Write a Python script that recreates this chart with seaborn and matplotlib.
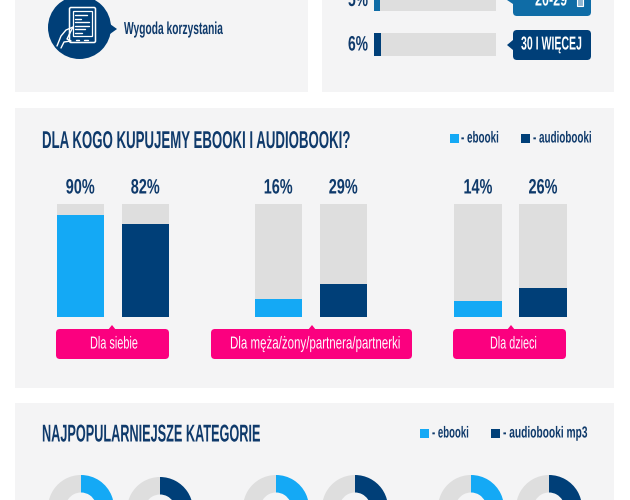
import matplotlib
matplotlib.use('Agg')
import matplotlib.pyplot as plt
from matplotlib.patches import Rectangle, FancyBboxPatch, Polygon, Circle
from matplotlib.patheffects import AbstractPathEffect
from matplotlib.text import Text
from matplotlib.transforms import Affine2D, Bbox
import seaborn as sns

# ── Data ──────────────────────────────────────────────────────────────────
BUYER_GROUPS = ['Dla siebie', 'Dla męża/żony/partnera/partnerki', 'Dla dzieci']
FORMATS = ['ebooki', 'audiobooki']
EBOOK_SHARE = [90, 16, 14]
AUDIO_SHARE = [82, 29, 26]

AGE_LABELS = ['20-29', '30 I WIĘCEJ']
AGE_SHARE = [5, 6]

# only the top of the donuts is in frame, so these are rough
DONUT_SHARE = [38, 31, 36, 30, 36, 33]

TITLE_BUYERS = 'DLA KOGO KUPUJEMY EBOOKI I AUDIOBOOKI?'
TITLE_CATEGORIES = 'NAJPOPULARNIEJSZE KATEGORIE'
REASON = 'Wygoda korzystania'

# ── Style ─────────────────────────────────────────────────────────────────
sns.set_theme(style='white')
plt.rcParams['font.family'] = ['Liberation Sans', 'DejaVu Sans']

PANEL = '#f4f4f5'
TRACK = '#dedede'
LIGHT = '#14a9f5'
NAVY = '#003f78'
MID = '#0f6ca6'
INK = '#0f3a6b'
PINK = '#fb007f'
W, H = 630, 500

fig = plt.figure(figsize=(6.3, 5), dpi=100, facecolor='white')
bg = fig.add_axes([0, 0, 1, 1])
bg.set_xlim(0, W)
bg.set_ylim(H, 0)
bg.axis('off')
renderer = fig.canvas.get_renderer()


# no condensed face is installed, so squeeze the glyphs horizontally at draw time
class Squeeze(AbstractPathEffect):
    def __init__(self, sx):
        super().__init__()
        self.sx = sx

    def draw_path(self, renderer, gc, tpath, affine, rgbFace=None):
        renderer.draw_path(gc, tpath, Affine2D().scale(self.sx, 1) + affine, rgbFace)


class NarrowText(Text):
    sx = 1.0

    def get_window_extent(self, renderer=None, dpi=None):
        bb = super().get_window_extent(renderer, dpi)
        return Bbox.from_bounds(bb.x0, bb.y0, bb.width * self.sx, bb.height)


def label(x0, x1, y, s, size, color=INK, bold=False):
    t = NarrowText(x0, y, s, fontsize=size, color=color, va='center', ha='left',
                   fontweight='bold' if bold else 'normal')
    bg.add_artist(t)
    t.sx = (x1 - x0) / Text.get_window_extent(t, renderer).width
    t.set_path_effects([Squeeze(t.sx)])
    return t


def px_axes(x0, y0, x1, y1):
    ax = fig.add_axes([x0 / W, 1 - y1 / H, (x1 - x0) / W, (y1 - y0) / H])
    ax.patch.set_alpha(0)
    return ax


def callout(x0, y0, x1, y1, color, tail):
    bg.add_patch(FancyBboxPatch((x0 + 4, y0 + 4), x1 - x0 - 8, y1 - y0 - 8,
                                boxstyle='round,pad=4,rounding_size=4',
                                fc=color, ec='none'))
    bg.add_patch(Polygon(tail, fc=color, ec='none'))


def legend_row(items, y):
    for sq_x, color, x0, x1, text in items:
        bg.add_patch(Rectangle((sq_x, y - 4.5), 9, 9, fc=color, ec='none'))
        label(x0, x1, y, text, 11.5, bold=True)


# panels
for x, y, w, h in [(15, -5, 293, 97), (322, -5, 292, 97),
                   (15, 108, 599, 280), (15, 403, 599, 102)]:
    bg.add_patch(Rectangle((x, y), w, h, fc=PANEL, ec='none'))

# ── Top left: reason with tablet icon ─────────────────────────────────────
bg.add_patch(Circle((79.5, 27.5), 31.5, fc=NAVY, ec='none'))
bg.add_patch(Polygon([(110, 24), (117, 29), (110, 34)], fc=NAVY, ec='none'))
bg.add_patch(FancyBboxPatch((70, 8), 25, 34, boxstyle='round,pad=0.5,rounding_size=1.5',
                            fc='none', ec='white', lw=1.1))
bg.add_patch(Rectangle((73, 11), 19, 25, fc='none', ec='white', lw=0.9))
for y_line, x_end in [(15, 87), (19, 81), (22, 89), (26, 89), (29, 85), (33, 82)]:
    bg.plot([75, x_end], [y_line, y_line], color='white', lw=1.0)
bg.plot([76, 79], [39.5, 39.5], color='white', lw=1.0)
bg.plot([84, 88], [39.5, 39.5], color='white', lw=1.0)
bg.plot([57, 61, 66, 73, 70, 67, 71, 64, 61],
        [46, 36, 30, 27, 33, 39, 41, 42, 48], color='white', lw=1.0)
label(124, 223, 29.5, REASON, 12.5, bold=True)

# ── Top right: age bars ───────────────────────────────────────────────────
age_ax = px_axes(374, -23, 496, 67)
sns.barplot(y=AGE_LABELS, x=[100, 100], color=TRACK, width=0.51, saturation=1,
            linewidth=0, ax=age_ax)
sns.barplot(y=AGE_LABELS, x=AGE_SHARE, hue=AGE_LABELS, palette=[MID, NAVY], width=0.51,
            saturation=1, linewidth=0, legend=False, ax=age_ax)
age_ax.set_xlim(0, 100)
age_ax.set_ylim(1.5, -0.5)
age_ax.axis('off')

callout(513, -20, 591, 16, MID, [(513, -4), (507, 0), (513, 4)])
callout(513, 30, 591, 60, NAVY, [(513, 40), (507, 45), (513, 50)])
label(535, 567, 1, AGE_LABELS[0], 13.5, color='white', bold=True)
bg.add_patch(Rectangle((577, -4), 6, 10, fc='#8fb6d2', ec='white', lw=0.8))
label(521, 582, 45, AGE_LABELS[1], 13.5, color='white', bold=True)
for share, y in zip(AGE_SHARE, [0.5, 45]):
    label(348, 368, y, f'{share}%', 15, bold=True)

# ── Middle: who we buy for ────────────────────────────────────────────────
label(42, 350, 141.5, TITLE_BUYERS, 17.5, bold=True)
legend_row([(450, LIGHT, 461, 499, '- ebooki'), (521, NAVY, 533, 592, '- audiobooki')], 138)

group_x = [47.75, 245.75, 445.5]
label_boxes = [(56, 169, 112), (211, 412, 312), (453, 566, 511)]
label_spans = [(90, 138), (230, 401), (490, 537)]
for i, left in enumerate(group_x):
    ax = px_axes(left, 204, left + 130, 317)
    sns.barplot(x=FORMATS, y=[100, 100], color=TRACK, width=0.73, saturation=1,
                linewidth=0, ax=ax)
    sns.barplot(x=FORMATS, y=[EBOOK_SHARE[i], AUDIO_SHARE[i]], hue=FORMATS,
                palette=[LIGHT, NAVY], width=0.73, saturation=1, linewidth=0,
                legend=False, ax=ax)
    ax.set_xlim(-0.5, 1.5)
    ax.set_ylim(0, 100)
    ax.axis('off')
    for off, share in [(32.5, EBOOK_SHARE[i]), (97.5, AUDIO_SHARE[i])]:
        label(left + off - 14.5, left + off + 14.5, 188, f'{share}%', 15, bold=True)

    x0, x1, tip = label_boxes[i]
    callout(x0, 329, x1, 359, PINK, [(tip - 4, 330), (tip, 325), (tip + 4, 330)])
    label(label_spans[i][0], label_spans[i][1], 344, BUYER_GROUPS[i], 12.5, color='white')

# ── Bottom: categories ────────────────────────────────────────────────────
label(42, 260, 435, TITLE_CATEGORIES, 17.5, bold=True)
legend_row([(420, LIGHT, 432, 469, '- ebooki'), (491, NAVY, 503, 588, '- audiobooki mp3')], 433)

donut_x = [81, 160, 276, 355, 471, 549]
donut_top = [475, 477, 475, 475, 475, 475]
donut_col = [LIGHT, NAVY, LIGHT, NAVY, LIGHT, NAVY]
for share, cx, top, col in zip(DONUT_SHARE, donut_x, donut_top, donut_col):
    ax = px_axes(cx - 33, top, cx + 33, top + 66)
    ax.pie([share, 100 - share], colors=[col, TRACK], startangle=90, counterclock=False,
           radius=1, wedgeprops={'width': 0.53, 'linewidth': 0})
    ax.set_xlim(-1, 1)
    ax.set_ylim(-1, 1)

fig.savefig('out.png', dpi=100, facecolor='white')
